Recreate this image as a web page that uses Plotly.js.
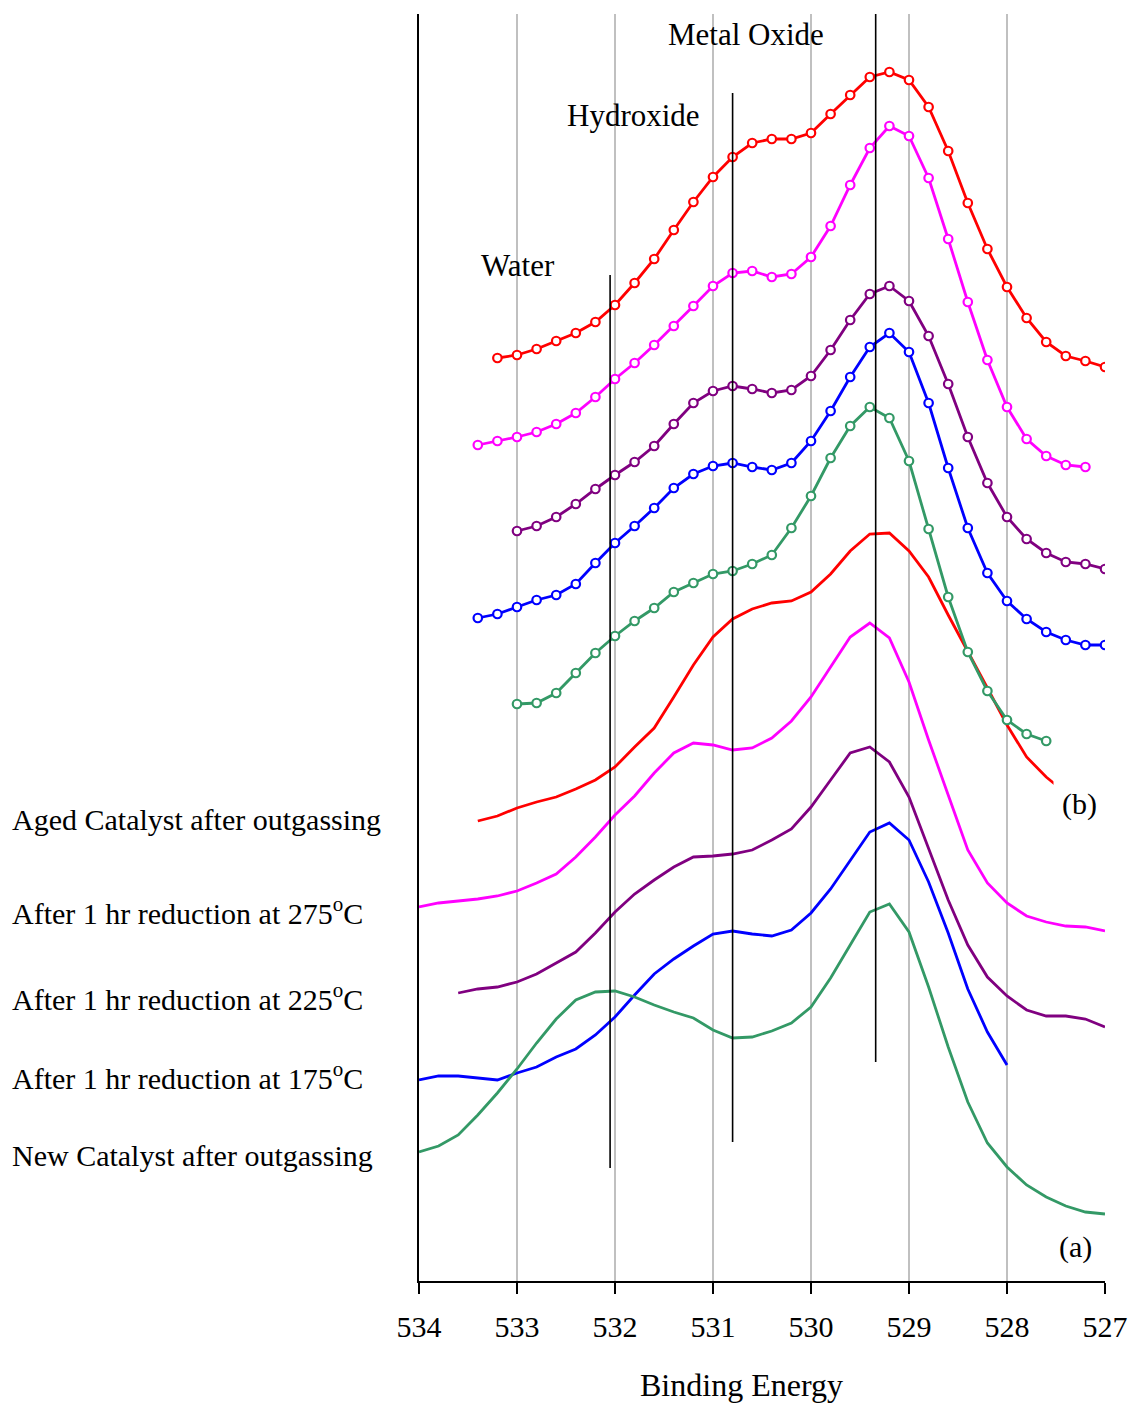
<!DOCTYPE html>
<html>
<head>
<meta charset="utf-8">
<script src="https://cdn.plot.ly/plotly-3.0.1.min.js"></script>
<style>html,body{margin:0;padding:0;background:#fff;}#chart{width:1135px;height:1405px;}</style>
</head>
<body>
<div id="chart"></div>
<script>
// Binding energy grids (eV), 0.2 eV steps
const xRedB = [533.2,533.0,532.8,532.6,532.4,532.2,532.0,531.8,531.6,531.4,531.2,531.0,530.8,530.6,530.4,530.2,530.0,529.8,529.6,529.4,529.2,529.0,528.8,528.6,528.4,528.2,528.0,527.8,527.6,527.4,527.2,527.0];
const yRedB = [923,926,932,940,948,959,976,998,1022,1051,1079,1104,1124,1138,1142,1142,1148,1167,1186,1204,1209,1201,1174,1130,1078,1032,994,963,939,925,920,914];

const xMagB = [533.4,533.2,533.0,532.8,532.6,532.4,532.2,532.0,531.8,531.6,531.4,531.2,531.0,530.8,530.6,530.4,530.2,530.0,529.8,529.6,529.4,529.2,529.0,528.8,528.6,528.4,528.2,528.0,527.8,527.6,527.4,527.2];
const yMagB = [836,840,844,849,857,868,884,902,918,936,955,975,995,1008,1010,1004,1007,1024,1055,1096,1133,1155,1145,1103,1042,979,921,874,842,825,816,814];

const xPurB = [533.0,532.8,532.6,532.4,532.2,532.0,531.8,531.6,531.4,531.2,531.0,530.8,530.6,530.4,530.2,530.0,529.8,529.6,529.4,529.2,529.0,528.8,528.6,528.4,528.2,528.0,527.8,527.6,527.4,527.2,527.0];
const yPurB = [750,755,764,777,792,806,819,835,857,878,890,895,892,888,891,905,931,961,987,995,980,945,897,844,798,764,742,728,719,717,712];

const xBluB = [533.4,533.2,533.0,532.8,532.6,532.4,532.2,532.0,531.8,531.6,531.4,531.2,531.0,530.8,530.6,530.4,530.2,530.0,529.8,529.6,529.4,529.2,529.0,528.8,528.6,528.4,528.2,528.0,527.8,527.6,527.4,527.2,527.0];
const yBluB = [663,667,674,681,686,697,718,738,755,773,793,807,815,818,814,811,818,840,870,904,934,948,929,878,813,753,708,680,662,649,641,636,636];

const xGrnB = [533.0,532.8,532.6,532.4,532.2,532.0,531.8,531.6,531.4,531.2,531.0,530.8,530.6,530.4,530.2,530.0,529.8,529.6,529.4,529.2,529.0,528.8,528.6,528.4,528.2,528.0,527.8,527.6];
const yGrnB = [577,578,588,608,628,645,660,673,689,698,707,710,717,726,753,785,823,855,874,863,820,752,684,629,590,561,547,540];

const xRedA = [533.4,533.2,533.0,532.8,532.6,532.4,532.2,532.0,531.8,531.6,531.4,531.2,531.0,530.8,530.6,530.4,530.2,530.0,529.8,529.6,529.4,529.2,529.0,528.8,528.6,528.4,528.2,528.0,527.8,527.6,527.4];
const yRedA = [460,465,473,479,484,492,501,514,534,553,584,616,644,662,672,678,680,689,707,730,747,748,730,704,666,630,593,556,524,504,488];

const xMagA = [534.0,533.8,533.6,533.4,533.2,533.0,532.8,532.6,532.4,532.2,532.0,531.8,531.6,531.4,531.2,531.0,530.8,530.6,530.4,530.2,530.0,529.8,529.6,529.4,529.2,529.0,528.8,528.6,528.4,528.2,528.0,527.8,527.6,527.4,527.2,527.0];
const yMagA = [374,378,380,382,385,390,398,407,424,444,466,485,508,528,538,536,531,533,543,560,584,614,644,658,643,599,541,486,431,398,378,365,359,355,354,350];

const xPurA = [533.6,533.4,533.2,533.0,532.8,532.6,532.4,532.2,532.0,531.8,531.6,531.4,531.2,531.0,530.8,530.6,530.4,530.2,530.0,529.8,529.6,529.4,529.2,529.0,528.8,528.6,528.4,528.2,528.0,527.8,527.6,527.4,527.2,527.0];
const yPurA = [288,292,294,299,307,318,329,348,369,387,401,414,424,425,427,431,441,452,474,501,528,534,519,484,433,381,336,304,285,271,265,265,262,254];

const xBluA = [534.0,533.8,533.6,533.4,533.2,533.0,532.8,532.6,532.4,532.2,532.0,531.8,531.6,531.4,531.2,531.0,530.8,530.6,530.4,530.2,530.0,529.8,529.6,529.4,529.2,529.0,528.8,528.6,528.4,528.2,528.0];
const yBluA = [201,205,205,203,201,208,214,224,232,246,264,286,307,322,335,347,350,347,345,351,368,392,421,449,458,441,399,348,292,249,216];

const xGrnA = [534.0,533.8,533.6,533.4,533.2,533.0,532.8,532.6,532.4,532.2,532.0,531.8,531.6,531.4,531.2,531.0,530.8,530.6,530.4,530.2,530.0,529.8,529.6,529.4,529.2,529.0,528.8,528.6,528.4,528.2,528.0,527.8,527.6,527.4,527.2,527.0];
const yGrnA = [129,135,146,166,188,212,238,262,281,289,290,284,276,269,263,251,243,244,250,258,274,303,336,369,377,349,294,234,179,138,114,96,84,75,69,67];

// Reference peak positions (eV) and their vertical extent (intensity units)
const refNames = ["Water", "Hydroxide", "Metal Oxide"];
const refX = [532.05, 530.80, 529.34];
const refTop = [1006, 1188, 1267];
const refBottom = [113, 139, 219];

const tickVals = [534, 533, 532, 531, 530, 529, 528, 527];
const seriesLabels = [
  "Aged Catalyst after outgassing",
  "After 1 hr reduction at 275<sup>o</sup>C",
  "After 1 hr reduction at 225<sup>o</sup>C",
  "After 1 hr reduction at 175<sup>o</sup>C",
  "New Catalyst after outgassing"
];

const C = {red:'#FF0000', mag:'#FF00FF', pur:'#800080', blu:'#0000FF', grn:'#339966'};

function markerTrace(x, y, color) {
  return {x, y, type:'scatter', mode:'lines+markers',
    line:{color, width:2.8},
    marker:{symbol:'circle', size:8.5, color:'#FFFFFF', line:{color, width:2.2}},
    hoverinfo:'skip'};
}
function lineTrace(x, y, color) {
  return {x, y, type:'scatter', mode:'lines', line:{color, width:2.8}, hoverinfo:'skip'};
}

const data = [
  lineTrace(xRedA, yRedA, C.red),
  lineTrace(xMagA, yMagA, C.mag),
  lineTrace(xPurA, yPurA, C.pur),
  lineTrace(xBluA, yBluA, C.blu),
  lineTrace(xGrnA, yGrnA, C.grn),
  markerTrace(xRedB, yRedB, C.red),
  markerTrace(xMagB, yMagB, C.mag),
  markerTrace(xPurB, yPurB, C.pur),
  markerTrace(xBluB, yBluB, C.blu),
  markerTrace(xGrnB, yGrnB, C.grn)
];

// layout helpers: pixel -> paper
const L = 419, R = 1104.6, T = 14, B = 1281;
const px = v => (v - L) / (R - L);
const py = v => (B - v) / (B - T);
const FONT = 'Liberation Serif, Times New Roman, serif';

const shapes = refX.map((xv, i) => ({
  type:'line', xref:'x', yref:'y', x0:xv, x1:xv, y0:refBottom[i], y1:refTop[i],
  line:{color:'#000000', width:1.6}, layer:'above'
}));

const labelPy = [819, 911, 997, 1076, 1155];
const annotations = [];
seriesLabels.forEach((t, i) => annotations.push({
  text:t, xref:'paper', yref:'paper', x:px(10), y:py(labelPy[i]),
  xanchor:'left', yanchor:'middle', showarrow:false,
  font:{family:FONT, size:30, color:'#000'}
}));
const refLabelPos = [[518, 265], [633.5, 115], [745.5, 35]];
refNames.forEach((t, i) => annotations.push({
  text:t, xref:'paper', yref:'paper', x:px(refLabelPos[i][0]), y:py(refLabelPos[i][1]),
  xanchor:'center', yanchor:'middle', showarrow:false,
  font:{family:FONT, size:31, color:'#000'}
}));
annotations.push({text:'(b)', xref:'paper', yref:'paper', x:px(1079), y:py(804),
  xanchor:'center', yanchor:'middle', showarrow:false, bgcolor:'#FFFFFF', borderpad:8,
  font:{family:FONT, size:30, color:'#000'}});
annotations.push({text:'(a)', xref:'paper', yref:'paper', x:px(1075), y:py(1247),
  xanchor:'center', yanchor:'middle', showarrow:false,
  font:{family:FONT, size:30, color:'#000'}});
annotations.push({text:'Binding Energy', xref:'paper', yref:'paper', x:px(741), y:py(1385),
  xanchor:'center', yanchor:'middle', showarrow:false,
  font:{family:FONT, size:32, color:'#000'}});

const layout = {
  width:1135, height:1405,
  margin:{l:L, r:1135-R, t:T, b:1405-B, pad:0},
  paper_bgcolor:'#FFFFFF', plot_bgcolor:'#FFFFFF',
  showlegend:false,
  xaxis:{range:[534, 527], tickvals:tickVals, ticktext:tickVals.map(String),
    showgrid:true, gridcolor:'#C0C0C0', gridwidth:1.5, zeroline:false,
    showline:true, linecolor:'#000000', linewidth:2,
    ticks:'outside', ticklen:11, tickwidth:2, tickcolor:'#000000',
    ticklabelstandoff:7,
    tickfont:{family:FONT, size:30, color:'#000'}, fixedrange:true},
  yaxis:{range:[0, 1267], showgrid:false, zeroline:false, showticklabels:false,
    ticks:'', showline:true, linecolor:'#000000', linewidth:1.6, fixedrange:true},
  shapes, annotations
};

Plotly.newPlot('chart', data, layout, {displayModeBar:false, staticPlot:true});
</script>
</body>
</html>
